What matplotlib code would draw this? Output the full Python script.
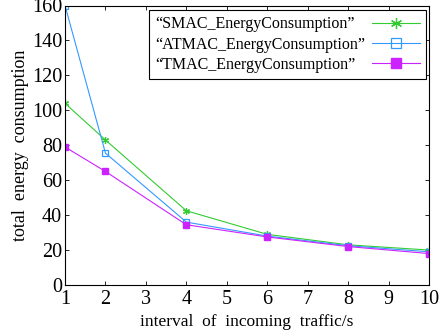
import matplotlib
matplotlib.use("Agg")
import matplotlib.pyplot as plt

x = [1, 2, 4, 6, 8, 10]
smac = [104, 83, 42.5, 29, 23, 20]
atmac = [160, 75.5, 36, 28, 22.5, 19]
tmac = [79, 65, 34.5, 27.5, 22, 18]
xticks = [1, 2, 3, 4, 5, 6, 7, 8, 9, 10]
yticks = [0, 20, 40, 60, 80, 100, 120, 140, 160]
labels = ['\u201cSMAC_EnergyConsumption\u201d',
          '\u201cATMAC_EnergyConsumption\u201d',
          '\u201cTMAC_EnergyConsumption\u201d']

plt.rcParams['font.family'] = ['Liberation Serif', 'DejaVu Serif']
DPI = 100
fig = plt.figure(figsize=(4.45, 3.32), dpi=DPI)
ax = fig.add_axes([65/445, 1-285/332, (429-65)/445, (285-5.5)/332])

ax.plot(x, smac, color='#33cc33', lw=0.8, marker=(6, 2, 0), ms=5, mew=0.9, label=labels[0])
ax.plot(x, atmac, color='#3399ff', lw=0.8, marker='s', ms=4.5, mfc='none', mew=0.9, label=labels[1])
ax.plot(x, tmac, color='#cc22ff', lw=0.8, marker='s', ms=4.5, label=labels[2])

ax.set_xlim(1, 10)
ax.set_ylim(0, 160)
ax.set_xticks(xticks)
ax.set_yticks(yticks)
ax.tick_params(direction='in', labelsize=14.5, length=3, width=0.6, top=True, right=True)
ax.tick_params(axis='x', pad=3.5)
ax.tick_params(axis='y', pad=2)
for s in ax.spines.values():
    s.set_linewidth(0.8)
ax.set_xlabel('interval  of  incoming  traffic/s', fontsize=12.5, labelpad=4)
ax.set_ylabel('total  energy  consumption', fontsize=13, labelpad=2)

fs = 11.5
leg = ax.legend(loc='upper right', bbox_to_anchor=(426/445, 1-10/332), bbox_transform=fig.transFigure,
                markerfirst=False, fontsize=fs, markerscale=1.6,
                fancybox=False, edgecolor='black', framealpha=1, borderpad=0.4,
                labelspacing=0.27, handlelength=3.0, handletextpad=0.4, borderaxespad=0)
leg.get_frame().set_linewidth(0.8)

# left-align the texts while keeping the handles aligned on the right
fig.canvas.draw()
r = fig.canvas.get_renderer()
widths = [t.get_window_extent(r).width for t in leg.get_texts()]
mw = max(widths)
col = leg._legend_handle_box.get_children()[0]
for ib, w in zip(col.get_children(), widths):
    ib.sep = 0.4 * fs + (mw - w) * 72 / DPI

fig.savefig('out.png', dpi=DPI)
